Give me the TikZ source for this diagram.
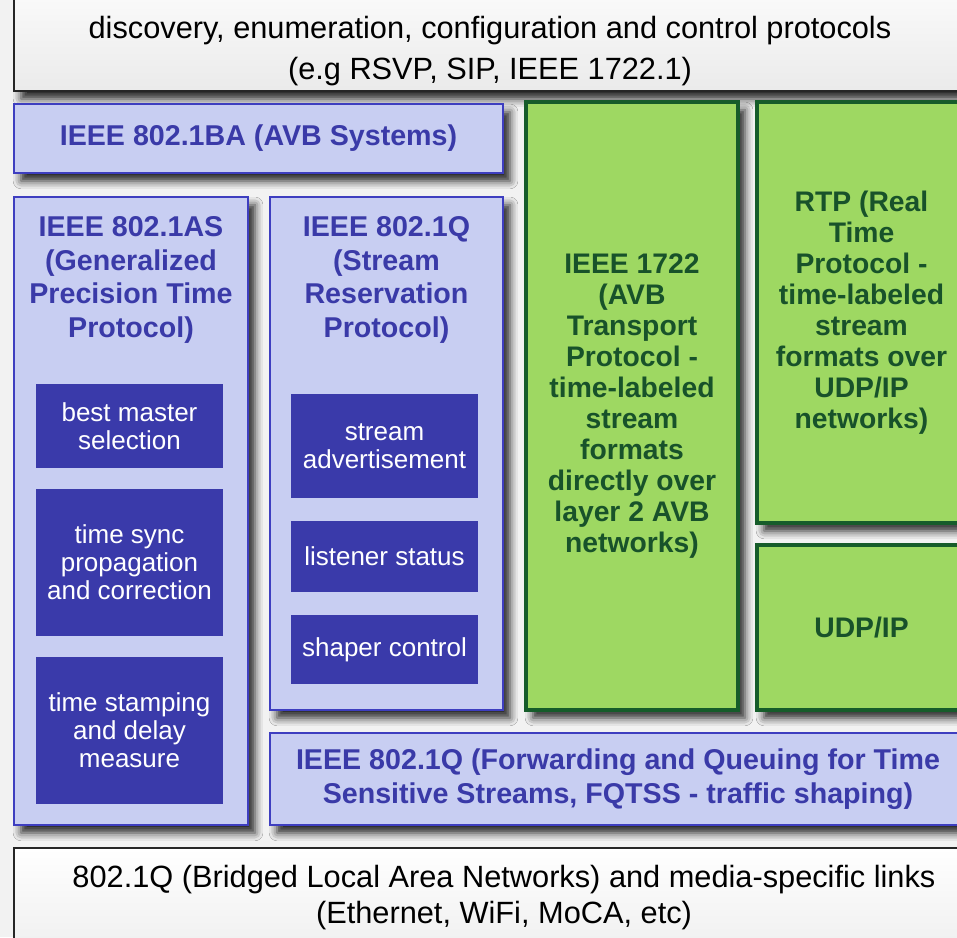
\documentclass[tikz,border=0pt]{standalone}
\usepackage{fontspec}
\setmainfont{Liberation Sans}
\usetikzlibrary{shadows.blur}
\definecolor{avbfill}{RGB}{200,206,242}
\definecolor{avbline}{RGB}{62,62,192}
\definecolor{avbtext}{RGB}{58,58,168}
\definecolor{avbdark}{RGB}{58,58,170}
\definecolor{mediafill}{RGB}{158,216,98}
\definecolor{medialine}{RGB}{22,92,42}
\definecolor{mediatext}{RGB}{24,82,42}
\definecolor{pagebg}{RGB}{242,242,242}
\begin{document}
\begin{tikzpicture}[x=.02cm,y=-.02cm,line join=miter,
  dropshade/.style={blur shadow={shadow xshift=4pt,shadow yshift=-4.5pt,shadow blur radius=4.5pt,shadow opacity=85}},
  outer/.style={dropshade,draw=black!85,line width=1.1pt,top color=white,bottom color=black!8},
  outertext/.style={font=\fontsize{17.5}{23}\selectfont,align=center},
  ieee/.style={dropshade,draw=avbline,line width=1.6pt,fill=avbfill,text=avbtext,
    font=\bfseries\fontsize{16.3}{19}\selectfont,align=center},
  ieeetitle/.style={text=avbtext,font=\bfseries\fontsize{16.3}{19}\selectfont,align=center},
  task/.style={fill=avbdark,text=white,font=\fontsize{14.8}{16}\selectfont,align=center,inner sep=0pt},
  transport/.style={dropshade,draw=medialine,line width=2.2pt,fill=mediafill,text=mediatext,
    font=\bfseries\fontsize{16.1}{17.6}\selectfont,align=center}]
  \clip (0,0) rectangle (957,937);
  \fill[pagebg] (0,0) rectangle (957,937);
  \node[outer,minimum width=19.04cm,minimum height=2.62cm] (ctrl) at (490,25.5) {};
  \node[outertext] (ctrltext) at (490,51)
    {discovery, enumeration, configuration and control protocols\\(e.g RSVP, SIP, IEEE 1722.1)};
  \node[ieee,minimum width=9.78cm,minimum height=1.38cm] (avbsys) at (258.5,138.5)
    {IEEE 802.1BA (AVB Systems)};
  \node[ieee,minimum width=4.68cm,minimum height=12.56cm] (gptp) at (131,511) {};
  \node[ieeetitle] (gptptitle) at (131,280)
    {IEEE 802.1AS\\(Generalized\\Precision Time\\Protocol)};
  \node[ieee,minimum width=4.66cm,minimum height=10.26cm] (srp) at (386.5,453.5) {};
  \node[ieeetitle] (srptitle) at (386.5,280)
    {IEEE 802.1Q\\(Stream\\Reservation\\Protocol)};
  \foreach \name/\ypos/\high/\label in {
    bms/426/1.68/{best master\\selection},
    tsp/562.5/2.94/{time sync\\propagation\\and correction},
    tsd/730.5/2.94/{time stamping\\and delay\\measure}}
    \node[task,minimum width=3.74cm,minimum height=\high cm] (\name) at (129.5,\ypos) {\label};
  \foreach \name/\ypos/\high/\label in {
    adv/446/2.08/{stream\\advertisement},
    lst/556.5/1.42/{listener status},
    shp/649.5/1.38/{shaper control}}
    \node[task,minimum width=3.74cm,minimum height=\high cm] (\name) at (384.5,\ypos) {\label};
  \node[transport,minimum width=4.24cm,minimum height=12.16cm] (avtp) at (632,406)
    {IEEE 1722\\(AVB\\Transport\\Protocol -\\time-labeled\\stream\\formats\\directly over\\layer 2 AVB\\networks)};
  \node[transport,minimum width=4.18cm,minimum height=8.42cm] (rtp) at (861.5,312.5)
    {RTP (Real\\Time\\Protocol -\\time-labeled\\stream\\formats over\\UDP/IP\\networks)};
  \node[transport,minimum width=4.18cm,minimum height=3.3cm] (udp) at (861.5,627.5) {UDP/IP};
  \node[ieee,minimum width=13.92cm,minimum height=1.84cm] (fqtss) at (618,779)
    {IEEE 802.1Q (Forwarding and Queuing for Time\\Sensitive Streams, FQTSS - traffic shaping)};
  \node[outer,minimum width=19.64cm,minimum height=2.64cm] (links) at (505,914) {};
  \node[outertext,font=\fontsize{17.5}{20.5}\selectfont] (linkstext) at (504,898)
    {802.1Q (Bridged Local Area Networks) and media-specific links\\(Ethernet, WiFi, MoCA, etc)};
\end{tikzpicture}
\end{document}
